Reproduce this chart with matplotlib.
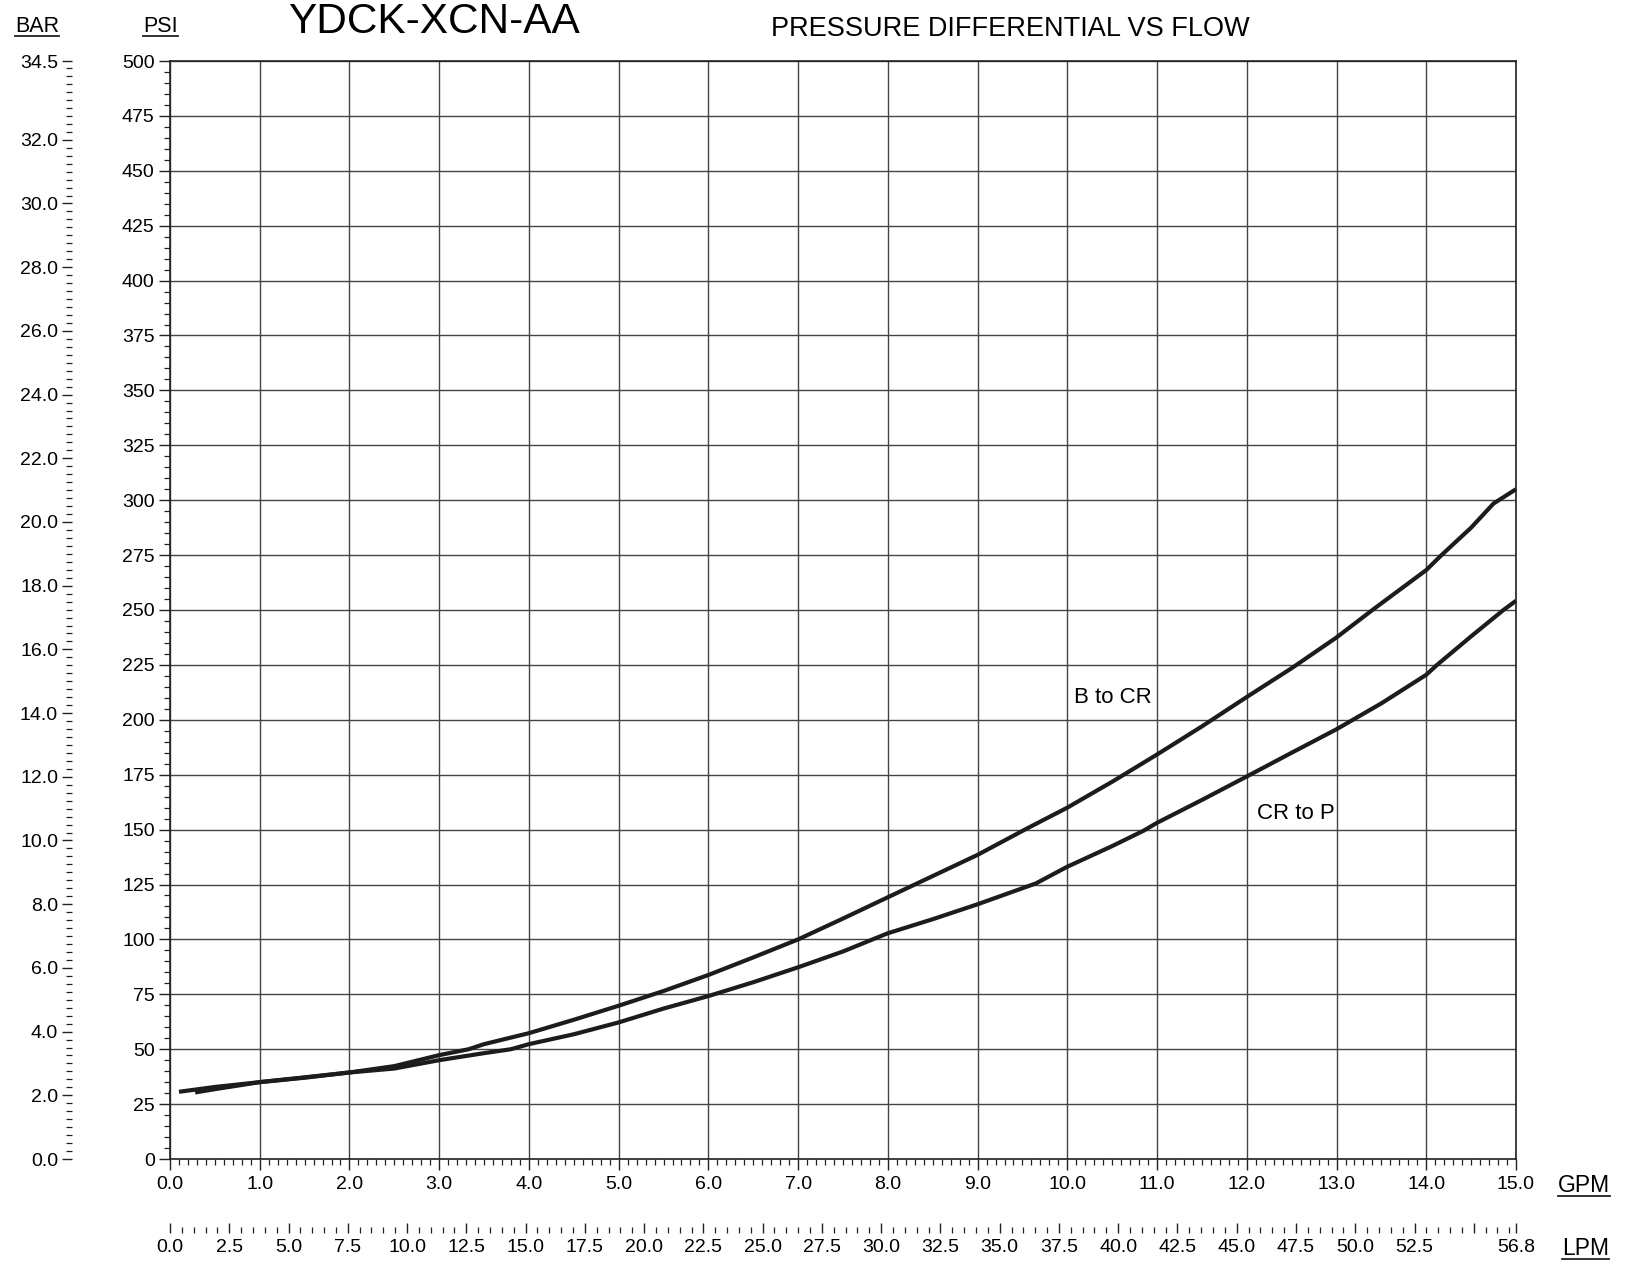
import numpy as np
import matplotlib
matplotlib.use("Agg")
import matplotlib.pyplot as plt
from matplotlib.ticker import MultipleLocator, FixedLocator
from matplotlib.lines import Line2D

plt.rcParams["font.family"] = ["Liberation Sans", "DejaVu Sans"]

# ---------------------------------------------------------------------
# dados (GPM x PSI)
# ---------------------------------------------------------------------
B_CR_GPM = [0.1, 0.5, 1.0, 1.5, 2.0, 2.5, 3.0, 3.33, 3.5, 4.0, 4.5, 5.0,
            5.5, 6.0, 6.5, 7.0, 7.5, 8.0, 8.43, 9.0, 9.55, 10.0, 10.5,
            11.0, 11.5, 12.0, 12.5, 13.0, 13.4, 14.0, 14.17, 14.5, 14.75, 15.0]
B_CR_PSI = [30.6, 32.8, 35.0, 37.2, 39.4, 42.3, 47.3, 50.0, 52.3, 57.3, 63.4, 69.8,
            76.5, 83.8, 91.8, 100.0, 109.5, 119.2, 127.5, 138.5, 150.5, 160.0, 171.8,
            184.2, 197.0, 210.4, 223.5, 237.5, 250.0, 268.2, 275.0, 287.5, 298.5, 305.0]

CR_P_GPM = [0.28, 0.5, 1.0, 1.5, 2.0, 2.5, 3.0, 3.5, 3.8, 4.0, 4.5, 5.0, 5.5,
            6.0, 6.5, 7.0, 7.5, 7.8, 8.0, 8.5, 9.0, 9.65, 10.0, 10.5, 10.85,
            11.0, 11.5, 12.0, 12.5, 13.0, 13.5, 14.0, 14.12, 14.5, 14.86, 15.0]
CR_P_PSI = [30.3, 31.8, 35.0, 37.0, 39.4, 41.2, 45.0, 48.2, 50.0, 52.3, 56.8, 62.2, 68.5,
            74.2, 80.5, 87.3, 94.5, 99.5, 102.8, 109.2, 116.0, 125.5, 133.1, 142.5, 149.5,
            153.1, 163.5, 174.2, 185.0, 195.7, 207.5, 220.5, 225.0, 238.0, 250.0, 254.2]

PSI_TICKS = list(range(0, 501, 25))
GPM_TICKS = [i * 1.0 for i in range(16)]
BAR_TICKS = [0.0, 2.0, 4.0, 6.0, 8.0, 10.0, 12.0, 14.0, 16.0, 18.0, 20.0,
             22.0, 24.0, 26.0, 28.0, 30.0, 32.0, 34.47]
BAR_LABELS = [f"{v:.1f}" for v in BAR_TICKS[:-1]] + ["34.5"]
LPM_TICKS = [i * 2.5 for i in range(23)] + [56.78]
LPM_LABELS = [f"{v:.1f}" for v in LPM_TICKS[:-2]] + ["", "56.8"]

PSI_POR_BAR = 14.5038
LPM_POR_GPM = 3.78541

W, H = 1627, 1265
PRETO = "#1c1c1c"
GRADE = "#444444"


def fx(px):
    return px / W


def fy(py):
    return 1 - py / H


fig = plt.figure(figsize=(W / 100, H / 100), dpi=100)
fig.patch.set_facecolor("white")

# eixo principal (PSI x GPM)
esq, dir_, topo, base = 170, 1516, 61, 1159
ax = fig.add_axes([fx(esq), fy(base), fx(dir_ - esq), (base - topo) / H])
ax.set_xlim(0, 15)
ax.set_ylim(0, 500)
ax.grid(which="major", color=GRADE, lw=1.0)
ax.set_axisbelow(True)
for s in ax.spines.values():
    s.set_linewidth(1.2)
    s.set_color("#222222")

ax.set_xticks(GPM_TICKS)
ax.set_xticklabels([f"{v:.1f}" for v in GPM_TICKS])
ax.xaxis.set_minor_locator(MultipleLocator(0.1))
ax.set_yticks(PSI_TICKS)
ax.set_yticklabels([str(v) for v in PSI_TICKS])
ax.yaxis.set_minor_locator(MultipleLocator(5))
ax.tick_params(which="both", direction="out", labelsize=14, color="#222222")
ax.tick_params(axis="x", which="major", length=8, width=1.0, pad=4)
ax.tick_params(axis="x", which="minor", length=4.5, width=0.9)
ax.tick_params(axis="y", which="major", length=8, width=1.0, pad=3)
ax.tick_params(axis="y", which="minor", length=4.5, width=0.9)

ax.plot(B_CR_GPM, B_CR_PSI, color=PRETO, lw=3.0, solid_capstyle="butt",
        solid_joinstyle="round", clip_on=False)
ax.plot(CR_P_GPM, CR_P_PSI, color=PRETO, lw=3.0, solid_capstyle="butt",
        solid_joinstyle="round", clip_on=False)
ax.text(10.07, 210, "B to CR", fontsize=16, va="center", ha="left")
ax.text(12.11, 157.5, "CR to P", fontsize=16, va="center", ha="left")

# escala BAR (so marcas, sem linha)
axb = fig.add_axes([fx(72), fy(base), 0.0005, (base - topo) / H])
axb.set_ylim(0, 500 / PSI_POR_BAR)
axb.set_xticks([])
for s in axb.spines.values():
    s.set_visible(False)
axb.yaxis.set_major_locator(FixedLocator(BAR_TICKS))
axb.set_yticklabels(BAR_LABELS)
axb.yaxis.set_minor_locator(MultipleLocator(0.25))
axb.tick_params(axis="y", which="major", direction="out", length=7, width=1.0,
                labelsize=14, pad=3, color="#222222")
axb.tick_params(axis="y", which="minor", direction="out", length=4, width=0.9,
                color="#222222")

# escala LPM (abaixo)
axl = fig.add_axes([fx(esq), fy(1233), fx(dir_ - esq), 0.0005])
axl.set_xlim(0, 15 * LPM_POR_GPM)
axl.set_yticks([])
for s in axl.spines.values():
    s.set_visible(False)
axl.xaxis.set_major_locator(FixedLocator(LPM_TICKS))
axl.set_xticklabels(LPM_LABELS)
axl.xaxis.set_minor_locator(MultipleLocator(0.5))
axl.tick_params(axis="x", which="major", direction="in", length=7, width=1.0,
                labelsize=14, pad=4, color="#222222")
axl.tick_params(axis="x", which="minor", direction="in", length=4, width=0.9,
                color="#222222")

# titulos
fig.text(fx(288), fy(22), "YDCK-XCN-AA", fontsize=30.5, va="center", ha="left")
fig.text(fx(771), fy(29), "PRESSURE DIFFERENTIAL VS FLOW", fontsize=19.5,
         va="center", ha="left")

# rotulos sublinhados: (texto, x, linha de base, tamanho)
sublinhados = [("BAR", 15, 32, 15.5), ("PSI", 143, 32, 15.5),
               ("GPM", 1558, 1192, 16.5), ("LPM", 1562, 1255, 16.5)]
textos = []
for txt, x, yb, tam in sublinhados:
    t = fig.text(fx(x), fy(yb), txt, fontsize=tam, va="baseline", ha="left")
    textos.append((t, yb))

fig.canvas.draw()
rend = fig.canvas.get_renderer()
for t, yb in textos:
    bb = t.get_window_extent(renderer=rend)
    fig.add_artist(Line2D([bb.x0 / W, bb.x1 / W], [fy(yb + 3.5)] * 2,
                          transform=fig.transFigure, color="#222222", lw=1.3))

fig.savefig("out.png", dpi=100, facecolor="white")
plt.close(fig)
